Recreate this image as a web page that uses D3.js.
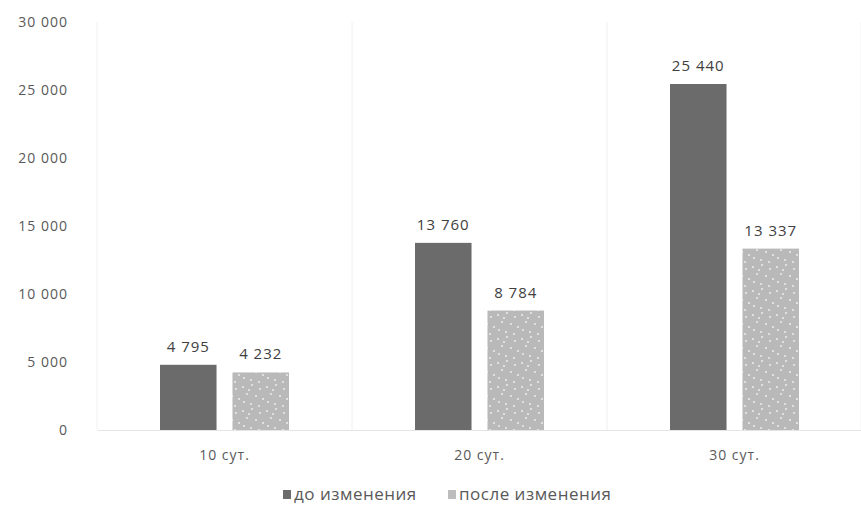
<!DOCTYPE html>
<html>
<head>
<meta charset="utf-8">
<script src="https://cdn.jsdelivr.net/npm/d3@7/dist/d3.min.js"></script>
<style>
  body { margin: 0; background: #fff; }
  svg { display: block; }
  text { font-family: "Open Sans", "Liberation Sans", sans-serif; }
</style>
</head>
<body>
<svg id="chart" width="861" height="505"></svg>
<script>
// data
var categories = ["10 сут.", "20 сут.", "30 сут."];
var seriesNames = ["до изменения", "после изменения"];
var before = [4795, 13760, 25440];
var after = [4232, 8784, 13337];
var yTicks = [0, 5000, 10000, 15000, 20000, 25000, 30000];

var svg = d3.select("#chart");
var plotLeft = 97, plotRight = 862, plotTop = 22, plotBottom = 430;

var x = d3.scaleBand().domain(categories).range([plotLeft, plotRight]).padding(0);
var x1 = d3.scaleBand().domain(seriesNames).range([63, 192]).paddingInner(0.22).paddingOuter(0);
var y = d3.scaleLinear().domain([0, 30000]).range([plotBottom, plotTop]);

var fmt = function(v){ return d3.format(",")(v).replace(/,/g, " "); };
var colours = { "до изменения": "#6b6b6b", "после изменения": "url(#dots)" };

// dotted fill for the second series
var defs = svg.append("defs");
var pat = defs.append("pattern")
	.attr("id", "dots")
	.attr("patternUnits", "userSpaceOnUse")
	.attr("width", 24).attr("height", 24);
pat.append("rect").attr("width", 24).attr("height", 24).attr("fill", "#b9b9b9");
[[2,3],[11,1],[19,5],[6,10],[15,12],[22,15],[3,18],[10,20],[18,22],[8,6]].forEach(function(p){
	pat.append("circle").attr("cx", p[0]).attr("cy", p[1]).attr("r", 0.9).attr("fill", "#f2f2f2");
});

// category separators
svg.append("g")
	.selectAll("line")
	.data(categories.concat(["end"]))
	.enter().append("line")
		.attr("x1", function(d, i){ return i < categories.length ? x(d) : plotRight - 1; })
		.attr("x2", function(d, i){ return i < categories.length ? x(d) : plotRight - 1; })
		.attr("y1", plotTop)
		.attr("y2", plotBottom)
		.attr("stroke", "#eef0ee")
		.attr("stroke-width", 1);

// y axis labels
var yAxis = d3.axisLeft(y).tickValues(yTicks).tickSize(0).tickPadding(0).tickFormat(fmt);
var gy = svg.append("g")
	.attr("transform", "translate(68,0)")
	.call(yAxis);
gy.select(".domain").remove();
gy.selectAll("text")
	.attr("fill", "#595959")
	.attr("font-size", 14)
	.attr("letter-spacing", 1)
	.attr("dy", "0.35em");

// baseline + category labels
var xAxis = d3.axisBottom(x).tickSize(0).tickPadding(20);
var gx = svg.append("g")
	.attr("transform", "translate(0," + plotBottom + ")")
	.call(xAxis);
gx.select(".domain").attr("stroke", "#e4e6e4");
gx.selectAll("text")
	.attr("fill", "#595959")
	.attr("font-size", 14)
	.attr("letter-spacing", 1);

// bars
var rows = categories.map(function(c, i){
	return [{cat: c, s: seriesNames[0], v: before[i]}, {cat: c, s: seriesNames[1], v: after[i]}];
});
var groups = svg.append("g").selectAll("g")
	.data(rows)
	.enter().append("g")
		.attr("transform", function(d){ return "translate(" + x(d[0].cat) + ",0)"; });

groups.selectAll("rect")
	.data(function(d){ return d; })
	.enter().append("rect")
		.attr("x", function(d){ return x1(d.s); })
		.attr("y", function(d){ return y(d.v); })
		.attr("width", x1.bandwidth())
		.attr("height", function(d){ return plotBottom - y(d.v); })
		.attr("fill", function(d){ return colours[d.s]; });

groups.selectAll("text")
	.data(function(d){ return d; })
	.enter().append("text")
		.attr("x", function(d){ return x1(d.s) + x1.bandwidth() / 2; })
		.attr("y", function(d){ return y(d.v) - 13; })
		.attr("text-anchor", "middle")
		.attr("fill", "#404040")
		.attr("font-size", 15)
		.attr("letter-spacing", 1)
		.text(function(d){ return fmt(d.v); });

// legend at the very bottom edge
var legendX = [283, 448];
var legend = svg.append("g").selectAll("g")
	.data(seriesNames)
	.enter().append("g")
		.attr("transform", function(d, i){ return "translate(" + legendX[i] + ",500)"; });
legend.append("rect")
	.attr("x", 0).attr("y", -10)
	.attr("width", 8).attr("height", 9)
	.attr("fill", function(d, i){ return i === 0 ? "#6b6b6b" : "#bdbdbd"; });
legend.append("text")
	.attr("x", 11)
	.attr("y", 0)
	.attr("fill", "#595959")
	.attr("font-size", 17)
	.attr("letter-spacing", 0.5)
	.text(function(d){ return d; });
</script>
</body>
</html>
